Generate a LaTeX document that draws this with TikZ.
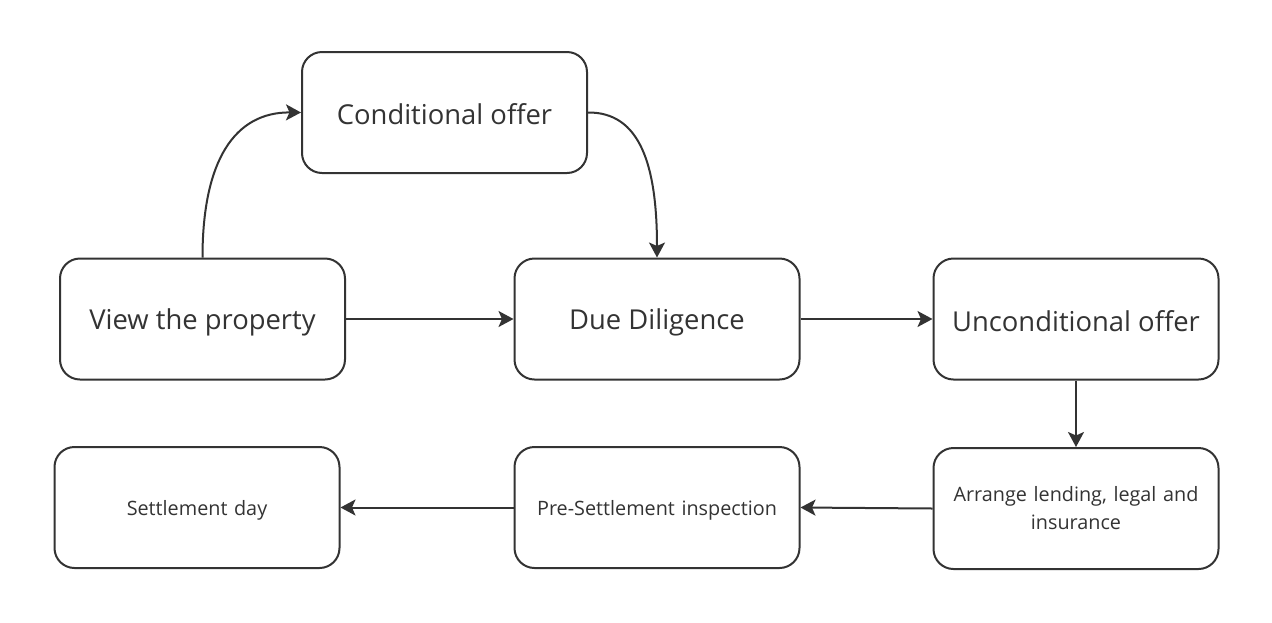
\documentclass[tikz,border=0pt]{standalone}
\usepackage{fontspec}
\setmainfont{Open Sans}
\usetikzlibrary{arrows.meta}
\definecolor{ink}{HTML}{333333}
\newcommand{\dn}[2]{\raisebox{-#1}[\height][\depth]{#2}}
\begin{document}
\begin{tikzpicture}[x=1pt,y=-1pt,
  box/.style={draw=ink,line width=2pt,rounded corners=20pt,minimum width=285pt,minimum height=121pt,inner sep=0pt,align=center,text=ink},
  big/.style={box,font=\fontsize{27.4}{32}\selectfont},
  small/.style={box,font=\fontsize{19.8}{28}\selectfont,text width=270pt},
  conn/.style={draw=ink,line width=2pt,-{Stealth[length=15pt,width=16pt,inset=3.5pt]}}]
\useasboundingbox (0,0) rectangle (1272,622);
\node[big] (cond) at (444.5,112.5) {\dn{2pt}{Conditional offer}};
\node[big] (view) at (202.5,319) {\dn{3.5pt}{View the property}};
\node[big] (due) at (657,319) {\dn{3.5pt}{Due Diligence}};
\node[big] (uncond) at (1076,319) {\dn{2pt}{Unconditional offer}};
\node[small] (settle) at (197,507.5) {\dn{2.5pt}{Settlement day}};
\node[small] (pre) at (657,507.5) {\dn{2.5pt}{Pre-Settlement inspection}};
\node[small] (arr) at (1076,508.5) {Arrange lending, legal and\\insurance};
\draw[conn] (view.north) .. controls (202.5,160) and (235,112) .. (cond.west);
\draw[conn] (cond.east) .. controls (640,112) and (657,165) .. (due.north);
\draw[conn] (view.east) -- (due.west);
\draw[conn] (due.east) -- (uncond.west);
\draw[conn] (uncond.south) -- (arr.north);
\draw[conn] (arr.west) -- (pre.east);
\draw[conn] (pre.west) -- (settle.east);
\end{tikzpicture}
\end{document}
